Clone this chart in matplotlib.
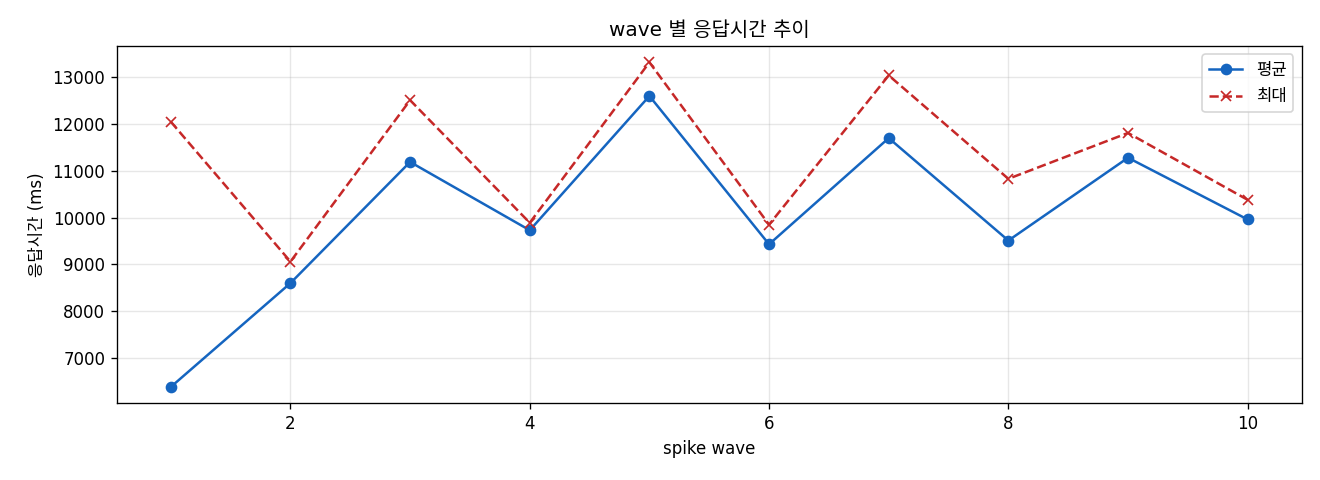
import matplotlib
matplotlib.use('Agg')
import matplotlib.pyplot as plt

plt.rcParams['font.family'] = ['DejaVu Sans', 'Noto Sans CJK KR']
plt.rcParams['axes.unicode_minus'] = False

waves = [1, 2, 3, 4, 5, 6, 7, 8, 9, 10]
avg_ms = [6380, 8600, 11190, 9730, 12600, 9430, 11700, 9510, 11280, 9960]
max_ms = [12050, 9060, 12510, 9890, 13320, 9850, 13040, 10830, 11810, 10380]

fig, ax = plt.subplots(figsize=(11, 4), dpi=120)
fig.subplots_adjust(left=0.0886, right=0.986, top=0.904, bottom=0.16)

ax.plot(waves, avg_ms, '-o', color='#1565C0', label='평균', markersize=6, linewidth=1.5)
ax.plot(waves, max_ms, '--x', color='#C62828', label='최대', markersize=6, linewidth=1.5)

ax.set_title('wave 별 응답시간 추이')
ax.set_xlabel('spike wave')
ax.set_ylabel('응답시간 (ms)')
ax.grid(True, alpha=0.3)
ax.legend(loc='upper right')

fig.savefig('out.png')
